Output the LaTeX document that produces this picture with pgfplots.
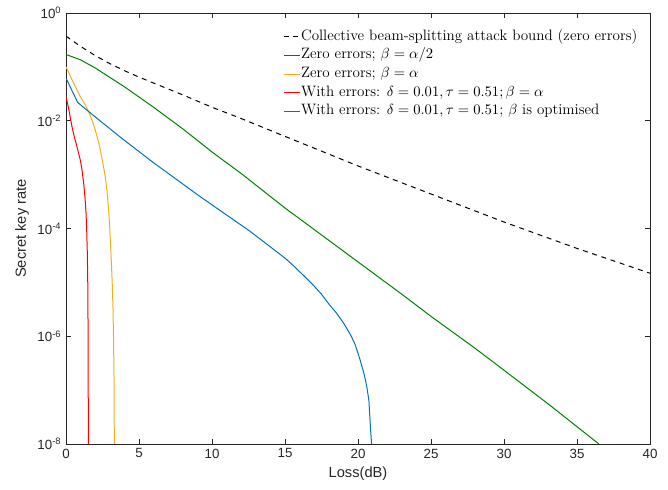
\documentclass[border=0pt]{standalone}
\usepackage{fontspec}
\usepackage{pgfplots}
\pgfplotsset{compat=1.18}
\newfontfamily\arialfont{Liberation Sans}

\definecolor{mgreen}{rgb}{0,0.5,0}
\definecolor{myellow}{rgb}{0.929,0.694,0.125}
\definecolor{mred}{rgb}{1,0,0}
\definecolor{mblue}{rgb}{0,0.447,0.741}

\begin{document}
\begin{tikzpicture}
\begin{axis}[
    scale only axis,
    width=438pt, height=323.25pt,
    xmin=0, xmax=40,
    ymode=log, ymin=1e-8, ymax=1,
    xtick={0,5,...,40},
    ytick={1e-8,1e-6,1e-4,1e-2,1},
    yticklabels={10\textsuperscript{-8},10\textsuperscript{-6},10\textsuperscript{-4},10\textsuperscript{-2},10\textsuperscript{0}},
    yminorticks=false,
    tick pos=both,
    tick align=inside,
    major tick length=4pt,
    axis line style={black!85, line width=0.5pt},
    tick style={black!85, line width=0.5pt},
    /pgf/number format/assume math mode=true,
    ticklabel style={font=\arialfont\fontsize{10}{12}\selectfont, black!85},
    xlabel={Loss(dB)},
    ylabel={Secret key rate},
    label style={font=\arialfont\fontsize{11}{13}\selectfont, black!85},
    xlabel style={at={(axis description cs:0.5,-0.0700)}, anchor=center},
    ylabel style={at={(axis description cs:-0.0753,0.5)}, anchor=center},
    legend style={at={(0.987,0.972)}, anchor=north east, draw=none, fill=none,
        font=\fontsize{11.3}{14}\selectfont, row sep=0.6pt,
        nodes={inner xsep=0.6pt, inner ysep=1.2pt, text height=8pt, text depth=3pt}},
    legend cell align=left,
    legend image code/.code={\draw[#1] (0pt,0pt) -- (12pt,0pt);},
    every axis plot/.append style={line width=0.75pt},
]
% collective beam-splitting bound
\addplot[color=black, draw=black, dash pattern=on 3.75pt off 3.5pt] coordinates {
(0,0.372) (1,0.240) (2,0.162) (3,0.115) (4,8.51e-2) (5,6.46e-2) (6,5.01e-2)
(8,3.02e-2) (10,1.78e-2) (12,1.10e-2) (15,5.13e-3) (20,1.45e-3) (25,4.37e-4)
(30,1.32e-4) (35,4.27e-5) (40,1.48e-5)};
\addlegendentry{Collective beam-splitting attack bound (zero errors)}
% zero errors, beta = alpha/2
\addplot[color=mgreen, draw=mgreen] coordinates {
(0,0.170) (1,0.135) (2,9.55e-2) (4,4.27e-2) (6,1.78e-2) (8,7.08e-3) (10,2.63e-3)
(10.9,1.74e-3) (12,1.05e-3) (15,2.40e-4) (18,6.03e-5) (20,2.40e-5) (23,6.03e-6)
(25,2.34e-6) (28,6.03e-7) (30,2.34e-7) (33,5.62e-8) (36.5,1.0e-8)};
\addlegendentry{Zero errors; $\beta=\alpha/2$}
% zero errors, beta = alpha
\addplot[color=myellow, draw=myellow] coordinates {
(0,0.1) (0.2,7.76e-2) (0.41,5.75e-2) (0.7,3.98e-2) (0.98,2.82e-2) (1.3,2.0e-2)
(1.55,1.48e-2) (1.8,1.0e-2) (2.0,6.76e-3) (2.2,4.37e-3) (2.35,2.88e-3)
(2.5,1.78e-3) (2.69,9.12e-4) (2.8,5.25e-4) (2.92,2.24e-4) (3.0,1.0e-4)
(3.06,4.47e-5) (3.12,2.0e-5) (3.17,8.91e-6) (3.22,3.16e-6) (3.26,7.94e-7)
(3.29,1.58e-7) (3.31,1.0e-8)};
\addlegendentry{Zero errors; $\beta=\alpha$}
% with errors, beta = alpha
\addplot[color=mred, draw=mred] coordinates {
(0,2.75e-2) (0.1,2.14e-2) (0.2,1.58e-2) (0.3,1.12e-2) (0.41,7.76e-3)
(0.55,5.25e-3) (0.75,3.31e-3) (0.98,1.86e-3) (1.1,1.20e-3) (1.21,6.92e-4)
(1.3,3.80e-4) (1.37,2.0e-4) (1.42,8.91e-5) (1.46,3.55e-5) (1.49,1.0e-5)
(1.51,1.58e-6) (1.52,2.51e-7) (1.53,1.0e-8)};
\addlegendentry{With errors: $\delta=0.01,\tau=0.51;\beta=\alpha$}
% with errors, beta optimised
\addplot[color=mblue, draw=mblue] coordinates {
(0,6.17e-2) (0.8,2.19e-2) (1.55,1.48e-2) (3.84,4.68e-3) (6,1.66e-3) (9.2,3.89e-4)
(11,1.78e-4) (12.6,8.91e-5) (15,2.82e-5) (15.5,2.14e-5) (16,1.58e-5)
(16.5,1.17e-5) (17,8.51e-6) (17.5,6.03e-6) (18,3.98e-6) (18.5,2.75e-6)
(19,1.78e-6) (19.5,1.05e-6) (19.8,7.08e-7) (20.1,3.98e-7) (20.4,2.09e-7)
(20.6,1.17e-7) (20.75,6.31e-8) (20.8,3.55e-8) (20.88,1.58e-8) (20.93,1.0e-8)};
\addlegendentry{With errors: $\delta=0.01,\tau=0.51$; $\beta$ is optimised}
\end{axis}
\path (current axis.south west) +(-49.5pt,-33.75pt) (current axis.north east) +(13.5pt,9.75pt);
\end{tikzpicture}
\end{document}
